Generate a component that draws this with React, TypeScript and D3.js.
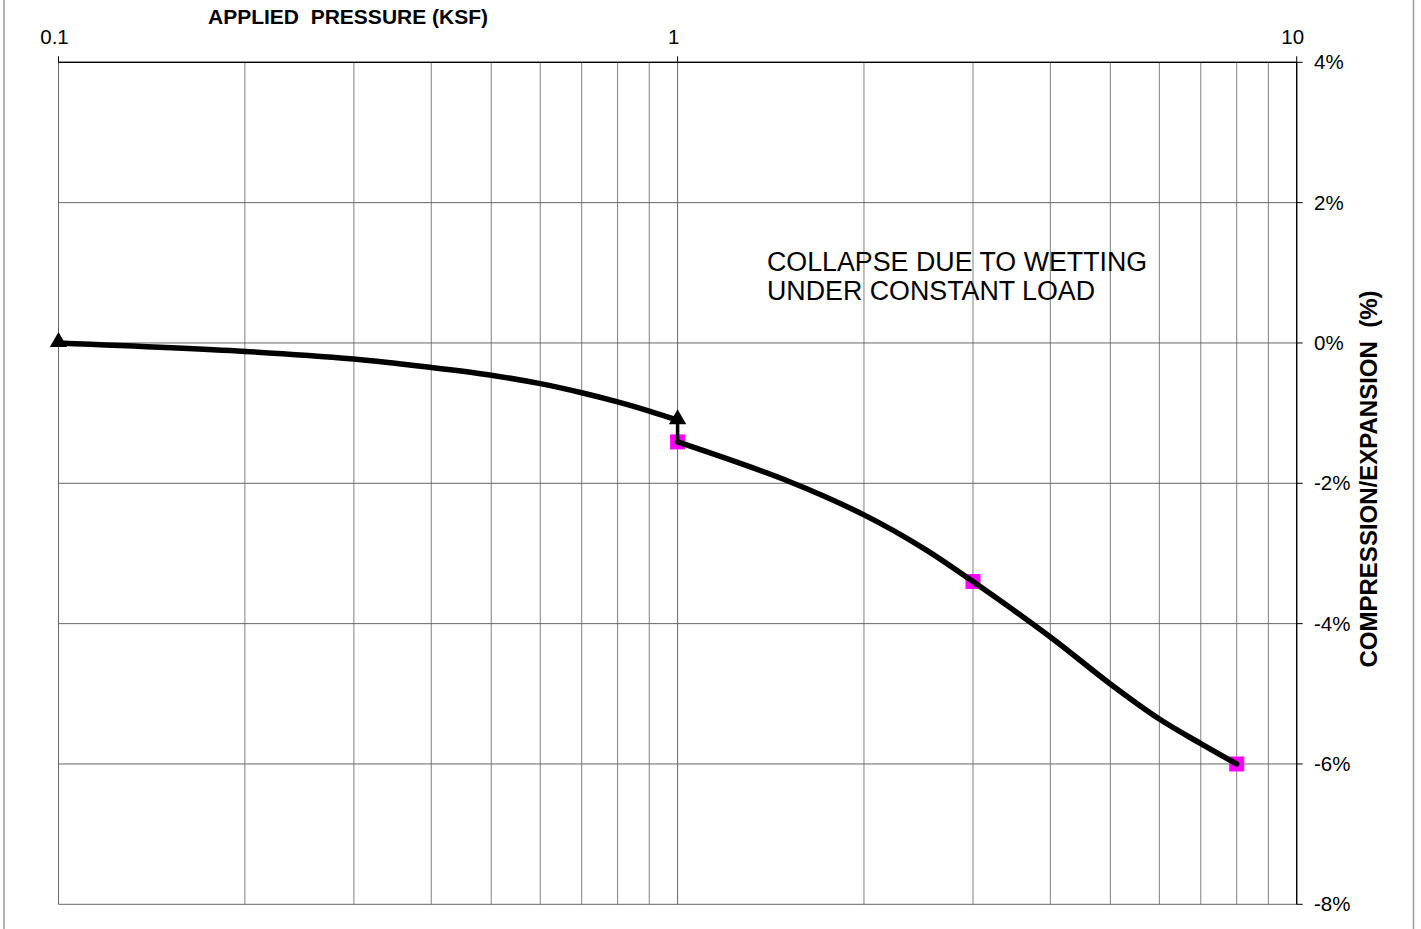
import React from "react";
import * as d3 from "d3";

// ---- data ----
const xTickValues = [0.1, 1, 10];
const xTickLabels = ["0.1", "1", "10"];
const yTickValues = [4, 2, 0, -2, -4, -6, -8];
const yTickLabels = ["4%", "2%", "0%", "-2%", "-4%", "-6%", "-8%"];

// loading curve (before wetting)
const loadP = [0.1, 0.2, 0.3, 0.4, 0.5, 0.6, 0.7, 0.8, 0.9, 1.0];
const loadY = [0, -0.12, -0.23, -0.35, -0.46, -0.58, -0.71, -0.84, -0.97, -1.1];
// curve after wetting
const wetP = [1, 1.5, 2, 2.5, 3, 4, 5, 6, 7, 8];
const wetY = [-1.41, -1.96, -2.45, -2.93, -3.4, -4.19, -4.86, -5.36, -5.71, -6.0];
// marker points
const triangleP = [0.1, 1];
const triangleY = [0, -1.1];
const squareP = [1, 3, 8];
const squareY = [-1.41, -3.4, -6.0];
// collapse connector (wetting under constant load)
const collapseP = [1, 1];
const collapseY = [-1.41, -1.1];

const W = 1421;
const H = 929;
const left = 58.5;
const right = 1296.7;
const top = 62.3;
const bottom = 904.3;

export default function App() {
  const x = d3.scaleLog().domain([0.1, 10]).range([left, right]);
  const y = d3.scaleLinear().domain([4, -8]).range([top, bottom]);

  const minorX: number[] = [];
  for (const dec of [0.1, 1]) {
    for (let k = 2; k <= 9; k++) minorX.push(dec * k);
  }

  const line = d3
    .line<[number, number]>()
    .x((d) => x(d[0]))
    .y((d) => y(d[1]))
    .curve(d3.curveCatmullRom.alpha(0.5));

  const loadPts = loadP.map((p, i) => [p, loadY[i]] as [number, number]);
  const wetPts = wetP.map((p, i) => [p, wetY[i]] as [number, number]);
  const collapsePts = collapseP.map((p, i) => [p, collapseY[i]] as [number, number]);

  const tri = d3.symbol().type(d3.symbolTriangle).size(130)();
  const sq = 15;

  const grid = "#808080";
  const font = "Liberation Sans, Arial, sans-serif";

  return (
    <svg
      width={W}
      height={H}
      style={{ position: "absolute", left: 0, top: 0, display: "block", background: "#fff" }}
    >
      {/* outer frame lines */}
      <line x1={4} x2={4} y1={0} y2={H} stroke="#9a9a9a" strokeWidth={1.5} />
      <line x1={1413.5} x2={1413.5} y1={0} y2={H} stroke="#9a9a9a" strokeWidth={1.5} />

      {/* vertical minor grid */}
      {minorX.map((v, i) => (
        <line key={"mx" + i} x1={x(v)} x2={x(v)} y1={top} y2={bottom} stroke={grid} strokeWidth={1} />
      ))}
      {/* vertical major grid */}
      {xTickValues.map((v, i) => (
        <line key={"Mx" + i} x1={x(v)} x2={x(v)} y1={top} y2={bottom} stroke={i === 2 ? "#000" : "#666"} strokeWidth={1} />
      ))}
      {/* horizontal grid */}
      {yTickValues.map((v, i) => (
        <line key={"gy" + i} x1={left} x2={right} y1={y(v)} y2={y(v)} stroke={i === 0 ? "#000" : "#666"} strokeWidth={1} />
      ))}
      {/* right axis line */}
      <line x1={right} x2={right} y1={top} y2={bottom} stroke="#000" strokeWidth={1.2} />
      {/* top axis line */}
      <line x1={left} x2={right} y1={top} y2={top} stroke="#000" strokeWidth={1.2} />

      {/* ticks */}
      {xTickValues.map((v, i) => (
        <line key={"tx" + i} x1={x(v)} x2={x(v)} y1={top - 6} y2={top} stroke="#000" strokeWidth={1} />
      ))}
      {yTickValues.map((v, i) => (
        <line key={"ty" + i} x1={right} x2={right + 6} y1={y(v)} y2={y(v)} stroke="#000" strokeWidth={1} />
      ))}

      {/* tick labels */}
      {xTickValues.map((v, i) => (
        <text key={"lx" + i} x={x(v) - 4} y={43.5} textAnchor="middle" fontFamily={font} fontSize={20.5} fill="#000">
          {xTickLabels[i]}
        </text>
      ))}
      {yTickValues.map((v, i) => (
        <text key={"ly" + i} x={1314} y={y(v) + 7} textAnchor="start" fontFamily={font} fontSize={20.5} fill="#000">
          {yTickLabels[i]}
        </text>
      ))}

      {/* axis titles */}
      <text x={208} y={24} fontFamily={font} fontSize={21} fontWeight="bold" fill="#000" style={{ whiteSpace: "pre" }}>
        {"APPLIED  PRESSURE (KSF)"}
      </text>
      <text
        transform={`translate(1377, 479) rotate(-90)`}
        textAnchor="middle"
        fontFamily={font}
        fontSize={24}
        fontWeight="bold"
        fill="#000"
        style={{ whiteSpace: "pre" }}
      >
        {"COMPRESSION/EXPANSION  (%)"}
      </text>

      {/* annotation */}
      <text fontFamily={font} fontSize={26.8} fill="#000">
        <tspan x={767} y={271}>COLLAPSE DUE TO WETTING</tspan>
        <tspan x={767} y={300}>UNDER CONSTANT LOAD</tspan>
      </text>

      {/* square markers (under lines) */}
      {squareP.map((p, i) => (
        <rect key={"sq" + i} x={x(p) - sq / 2} y={y(squareY[i]) - sq / 2} width={sq} height={sq} fill="#ff00ff" />
      ))}

      {/* curves */}
      <path d={line(loadPts) || ""} fill="none" stroke="#000" strokeWidth={5.5} strokeLinecap="round" />
      <path d={line(wetPts) || ""} fill="none" stroke="#000" strokeWidth={5.5} strokeLinecap="round" />
      <path d={d3.line<[number, number]>().x((d) => x(d[0])).y((d) => y(d[1]))(collapsePts) || ""} fill="none" stroke="#000" strokeWidth={3.5} />

      {/* triangle markers */}
      {triangleP.map((p, i) => (
        <path key={"tr" + i} d={tri || ""} transform={`translate(${x(p)},${y(triangleY[i]) - 1})`} fill="#000" />
      ))}
    </svg>
  );
}
